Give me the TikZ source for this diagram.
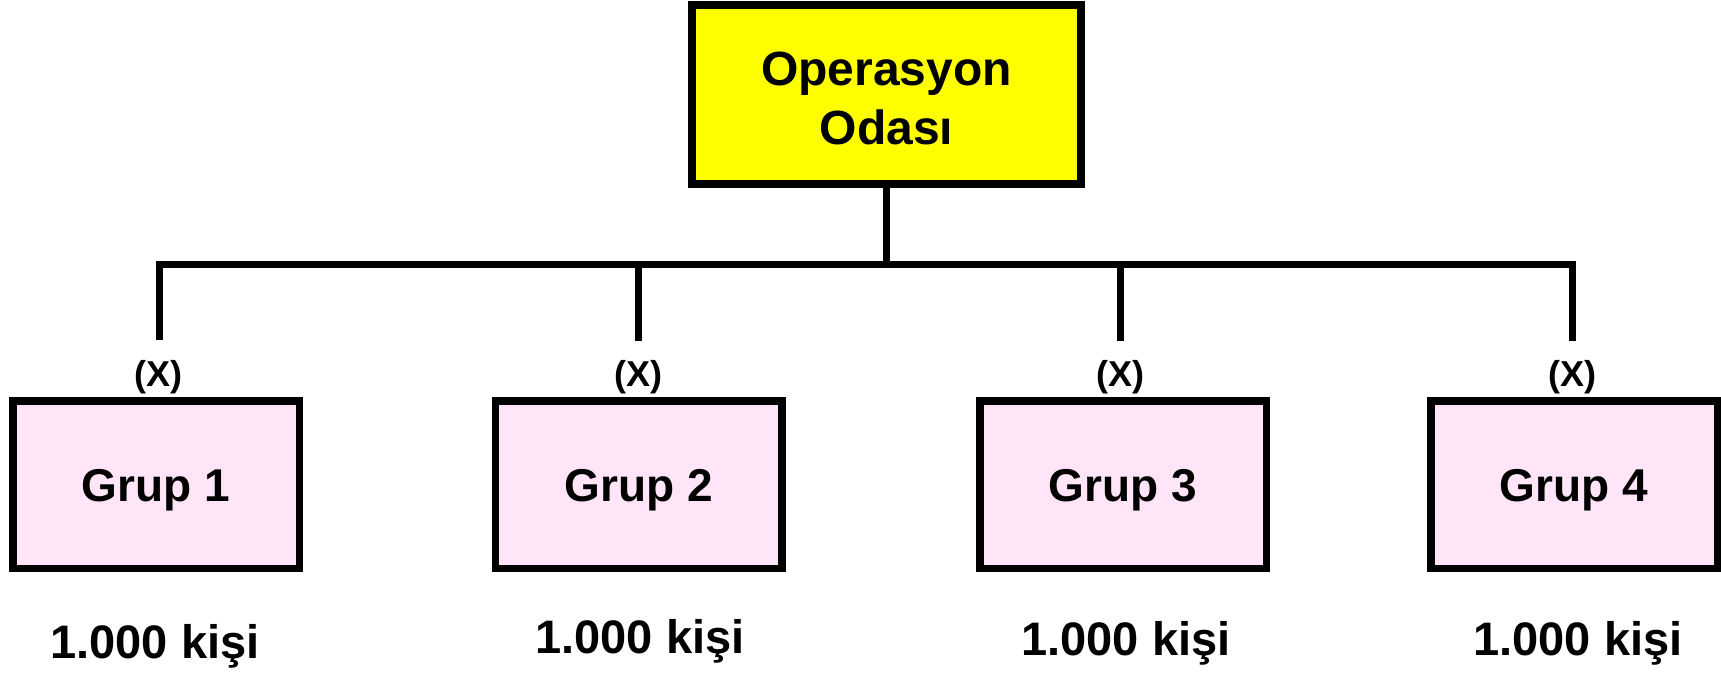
\documentclass[tikz,border=0pt]{standalone}
\usepackage{fontspec}
\setmainfont{Liberation Sans}
\definecolor{opyellow}{RGB}{255,255,0}
\definecolor{grpink}{RGB}{255,229,247}
\begin{document}
\begin{tikzpicture}[x=1pt,y=-1pt,
  opbox/.style={draw=black,line width=7.7pt,fill=opyellow,minimum width=389pt,minimum height=179pt,inner sep=0pt,align=center,
    font=\fontsize{48}{59}\selectfont\bfseries},
  grbox/.style={draw=black,line width=7.5pt,fill=grpink,minimum width=286.5pt,minimum height=167.5pt,inner sep=0pt,
    text height=33pt,text depth=0pt,font=\fontsize{46}{55}\selectfont\bfseries},
  xlab/.style={anchor=base,inner sep=0pt,font=\fontsize{36}{40}\selectfont\bfseries},
  klab/.style={anchor=base,inner sep=0pt,font=\fontsize{47}{55}\selectfont\bfseries},
  conn/.style={draw=black,line width=7pt,line join=miter}]
\useasboundingbox (0,0) rectangle (1721,673);
\node[opbox] (op) at (886.5,94.5) {};
\node[inner sep=0pt,align=center,font=\fontsize{48}{59}\selectfont\bfseries] (optxt) at (886.5,98) {Operasyon\\Odası};
\coordinate (bar) at (886.5,264);
\coordinate (e1) at (159.3,340);
\coordinate (e2) at (638.3,341);
\coordinate (e3) at (1120.7,341);
\coordinate (e4) at (1572.7,341);
\draw[conn] (op.south) -- (bar);
\draw[conn] (e1) -- (e1 |- bar) -- (e4 |- bar) -- (e4);
\draw[conn] (e2 |- bar) -- (e2);
\draw[conn] (e3 |- bar) -- (e3);
\node[xlab] (x1) at (158.8,386.7) {(X)};
\node[xlab] (x2) at (638.3,386.7) {(X)};
\node[xlab] (x3) at (1120.7,386.7) {(X)};
\node[xlab] (x4) at (1572.7,386.7) {(X)};
\node[grbox] (g1) at (156,484.5) {Grup 1};
\node[grbox] (g2) at (638.8,484.5) {Grup 2};
\node[grbox] (g3) at (1123,484.5) {Grup 3};
\node[grbox] (g4) at (1574,484.5) {Grup 4};
\node[klab] (k1) at (155,658) {1.000 kişi};
\node[klab] (k2) at (640,653.3) {1.000 kişi};
\node[klab] (k3) at (1126,655) {1.000 kişi};
\node[klab] (k4) at (1578,655) {1.000 kişi};
\end{tikzpicture}
\end{document}
